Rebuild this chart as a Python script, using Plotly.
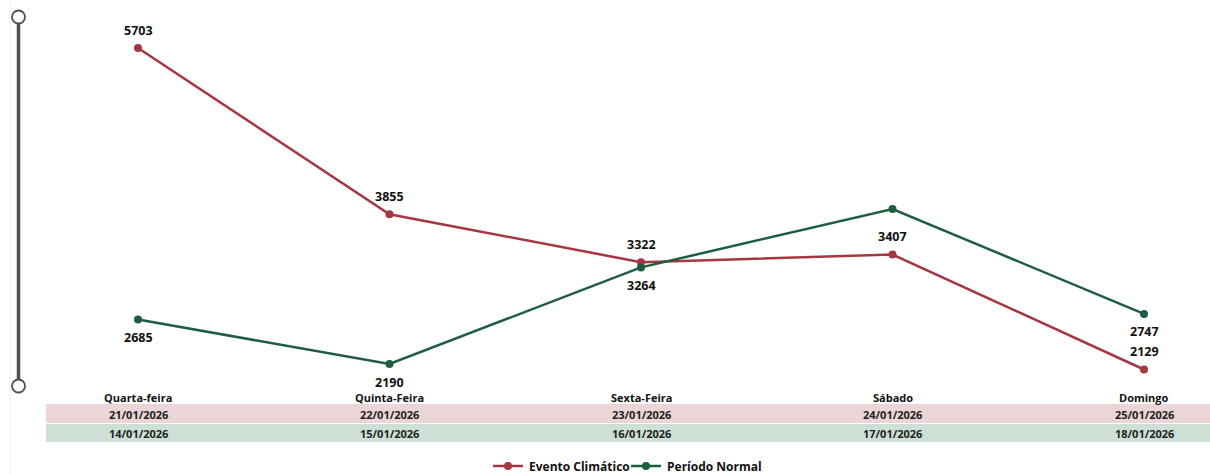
import plotly.graph_objects as go

days = ["Quarta-feira", "Quinta-Feira", "Sexta-Feira", "Sábado", "Domingo"]
dates_evento = ["21/01/2026", "22/01/2026", "23/01/2026", "24/01/2026", "25/01/2026"]
dates_normal = ["14/01/2026", "15/01/2026", "16/01/2026", "17/01/2026", "18/01/2026"]
evento = [5703, 3855, 3322, 3407, 2129]
normal = [2685, 2190, 3264, 3913, 2747]
normal_label_shown = [True, True, True, False, True]
series_names = ["Evento Climático", "Período Normal"]

RED = "#A63641"
GREEN = "#1D5E40"
FONT = "Open Sans"

W, H = 1210, 474
ML, MR, MT, MB = 46, 0, 17, 88
ph = H - MT - MB
pw = W - ML - MR

def py(p):  # pixel y -> paper y
    return (H - MB - p) / ph

def px(p):  # pixel x -> paper x
    return (p - ML) / pw

xs = list(range(len(days)))

fig = go.Figure()
fig.add_trace(go.Scatter(
    x=xs, y=evento, name=series_names[0], mode="lines+markers",
    line=dict(color=RED, width=2.5), marker=dict(color=RED, size=8),
    cliponaxis=False, showlegend=False,
))
fig.add_trace(go.Scatter(
    x=xs, y=normal, name=series_names[1], mode="lines+markers",
    line=dict(color=GREEN, width=2.5), marker=dict(color=GREEN, size=8),
    cliponaxis=False, showlegend=False,
))

shapes = []
# bands
shapes.append(dict(type="rect", xref="paper", yref="paper", x0=0, x1=1,
                   y0=py(423), y1=py(404), fillcolor="#EBD5D6", line=dict(width=0), layer="below"))
shapes.append(dict(type="rect", xref="paper", yref="paper", x0=0, x1=1,
                   y0=py(442), y1=py(424), fillcolor="#CEDFD6", line=dict(width=0), layer="below"))
# faint left border
shapes.append(dict(type="line", xref="paper", yref="paper", x0=px(10), x1=px(10),
                   y0=py(474), y1=py(0), line=dict(color="#EEEEEE", width=1)))
# slider
shapes.append(dict(type="line", xref="paper", yref="paper", x0=px(18.5), x1=px(18.5),
                   y0=py(380), y1=py(23), line=dict(color="#505050", width=3.5)))
for cy in (17, 386):
    shapes.append(dict(type="circle", xref="paper", yref="paper",
                       x0=px(12), x1=px(25), y0=py(cy + 6.5), y1=py(cy - 6.5),
                       fillcolor="white", line=dict(color="#505050", width=1.8)))

annotations = []
# data labels
for i in xs:
    annotations.append(dict(x=i, y=evento[i], xref="x", yref="y", text=f"<b>{evento[i]}</b>",
                            showarrow=False, yanchor="middle", yshift=18,
                            font=dict(family=FONT, size=12.5, color="#111111")))
    if normal_label_shown[i]:
        annotations.append(dict(x=i, y=normal[i], xref="x", yref="y", text=f"<b>{normal[i]}</b>",
                                showarrow=False, yanchor="middle", yshift=-18,
                                font=dict(family=FONT, size=12.5, color="#111111")))

# category rows
for i in xs:
    annotations.append(dict(x=i, xref="x", y=py(397), yref="paper", text=f"<b>{days[i]}</b>",
                            showarrow=False, yanchor="middle",
                            font=dict(family=FONT, size=11, color="#111111")))
    annotations.append(dict(x=i, xref="x", y=py(414), yref="paper", text=f"<b>{dates_evento[i]}</b>",
                            showarrow=False, yanchor="middle",
                            font=dict(family=FONT, size=11, color="#222222")))
    annotations.append(dict(x=i, xref="x", y=py(433.5), yref="paper", text=f"<b>{dates_normal[i]}</b>",
                            showarrow=False, yanchor="middle",
                            font=dict(family=FONT, size=11, color="#222222")))

# manual legend (kept off the margins so the plot area does not move)
leg_y = py(466)
for (x0, name, col) in [(493, series_names[0], RED), (631, series_names[1], GREEN)]:
    shapes.append(dict(type="line", xref="paper", yref="paper", x0=px(x0), x1=px(x0 + 30),
                       y0=leg_y, y1=leg_y, line=dict(color=col, width=2.5)))
    shapes.append(dict(type="circle", xref="paper", yref="paper",
                       x0=px(x0 + 11), x1=px(x0 + 19), y0=py(470), y1=py(462),
                       fillcolor=col, line=dict(color=col, width=0)))
    annotations.append(dict(x=px(x0 + 34), xref="paper", y=leg_y, yref="paper",
                            text=f"<b>{name}</b>", showarrow=False, xanchor="left", yanchor="middle",
                            font=dict(family=FONT, size=12, color="#111111")))

k = 316 / (5703 - 2190)
ymax = 5703 + (48 - MT) / k
ymin = 5703 - (H - MB - 48) / k
xl = -92 / 251.5
xr = 4 + 66 / 251.5

fig.update_layout(
    width=W, height=H,
    margin=dict(l=ML, r=MR, t=MT, b=MB, autoexpand=False),
    paper_bgcolor="white", plot_bgcolor="white",
    xaxis=dict(range=[xl, xr], showgrid=False, zeroline=False, showticklabels=False, showline=False),
    yaxis=dict(range=[ymin, ymax], showgrid=False, zeroline=False, showticklabels=False, showline=False),
    showlegend=False,
    shapes=shapes, annotations=annotations,
)

fig.write_html("out.html", config={"displayModeBar": False},
               post_script="document.body.style.margin='0px';document.body.style.overflow='hidden';")
